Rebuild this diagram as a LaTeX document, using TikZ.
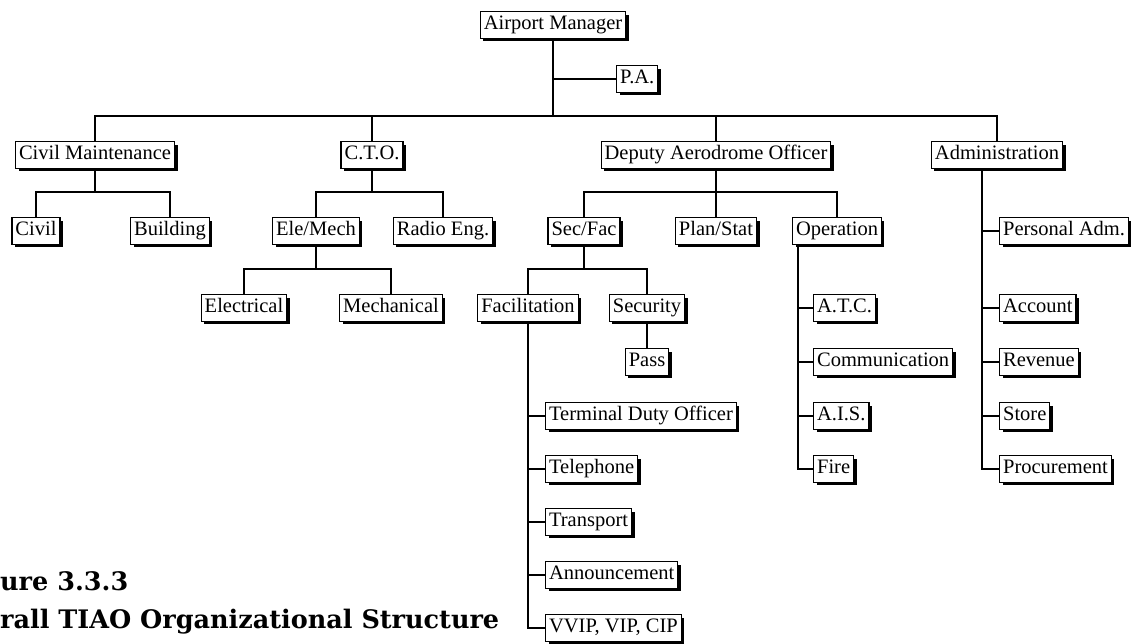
\documentclass[tikz,border=0pt]{standalone}
\usepackage{fontspec}
\setmainfont{Liberation Serif}
\newfontfamily\capfont{DejaVu Serif}
\usetikzlibrary{shadows}
\begin{document}
\begin{tikzpicture}[x=1pt,y=-1pt,
  box/.style={draw, line width=1.2pt, fill=white, inner xsep=3.5pt, inner ysep=3.5pt,
    text height=14.5pt, text depth=5pt, font=\fontsize{20.5}{22}\selectfont,
    drop shadow={shadow xshift=3pt, shadow yshift=-3pt, fill=black, opacity=1}},
  conn/.style={line width=2.1pt},
  capt/.style={anchor=base west, inner sep=0pt, font=\capfont\bfseries\fontsize{25.5}{28}\selectfont}]
\useasboundingbox (0,0) rectangle (1131,643);
% nodes
\node[box] (am) at (553,25) {Airport Manager};
\node[box,anchor=west] (pa) at (616,79) {P.A.};
\node[box] (cm) at (95,155) {Civil Maintenance};
\node[box] (cto) at (372,155) {C.T.O.};
\node[box] (dao) at (716,155) {Deputy Aerodrome Officer};
\node[box] (adm) at (997,155) {Administration};
\node[box] (civil) at (36,231) {Civil};
\node[box] (bld) at (170,231) {Building};
\node[box] (em) at (316,231) {Ele/Mech};
\node[box] (radio) at (443,231) {Radio Eng.};
\node[box] (secfac) at (584,231) {Sec/Fac};
\node[box] (plan) at (716,231) {Plan/Stat};
\node[box] (op) at (837,231) {Operation};
\node[box,anchor=west] (padm) at (999,231) {Personal Adm.};
\node[box] (elec) at (244,308) {Electrical};
\node[box] (mech) at (391,308) {Mechanical};
\node[box] (fac) at (528,308) {Facilitation};
\node[box] (sec) at (647,308) {Security};
\node[box] (pass) at (647,362) {Pass};
\node[box,anchor=west] (atc) at (813,308) {A.T.C.};
\node[box,anchor=west] (comm) at (813,362) {Communication};
\node[box,anchor=west] (ais) at (813,416) {A.I.S.};
\node[box,anchor=west] (fire) at (813,469) {Fire};
\node[box,anchor=west] (acc) at (999,308) {Account};
\node[box,anchor=west] (rev) at (999,362) {Revenue};
\node[box,anchor=west] (store) at (999,416) {Store};
\node[box,anchor=west] (proc) at (999,469) {Procurement};
\node[box,anchor=west] (tdo) at (545,416) {Terminal Duty Officer};
\node[box,anchor=west] (tel) at (545,469) {Telephone};
\node[box,anchor=west] (trans) at (545,522) {Transport};
\node[box,anchor=west] (ann) at (545,575) {Announcement};
\node[box,anchor=west] (vvip) at (545,628) {VVIP, VIP, CIP};
% bus coordinates
\coordinate (topbus) at (0,116);
\coordinate (lvtwo) at (0,192);
\coordinate (lvthree) at (0,269);
\coordinate (opx) at (798,0);
\coordinate (admx) at (982,0);
% connectors
\draw[conn] (am.south) -- (am.south |- topbus);
\draw[conn] (am.south |- pa.west) -- (pa.west);
\draw[conn] (cm.north) -- (cm.north |- topbus) -- (adm.north |- topbus) -- (adm.north);
\draw[conn] (cto.north) -- (cto.north |- topbus);
\draw[conn] (dao.north) -- (dao.north |- topbus);
% civil maintenance
\draw[conn] (cm.south) -- (cm.south |- lvtwo);
\draw[conn] (civil.north) -- (civil.north |- lvtwo) -- (bld.north |- lvtwo) -- (bld.north);
% CTO
\draw[conn] (cto.south) -- (cto.south |- lvtwo);
\draw[conn] (em.north) -- (em.north |- lvtwo) -- (radio.north |- lvtwo) -- (radio.north);
\draw[conn] (em.south) -- (em.south |- lvthree);
\draw[conn] (elec.north) -- (elec.north |- lvthree) -- (mech.north |- lvthree) -- (mech.north);
% Deputy
\draw[conn] (dao.south) -- (dao.south |- lvtwo);
\draw[conn] (secfac.north) -- (secfac.north |- lvtwo) -- (op.north |- lvtwo) -- (op.north);
\draw[conn] (plan.north) -- (plan.north |- lvtwo);
\draw[conn] (secfac.south) -- (secfac.south |- lvthree);
\draw[conn] (fac.north) -- (fac.north |- lvthree) -- (sec.north |- lvthree) -- (sec.north);
\draw[conn] (sec.south) -- (pass.north);
% facilitation
\draw[conn] (fac.south) |- (vvip.west);
\foreach \n in {tdo,tel,trans,ann} \draw[conn] (fac.south |- \n.west) -- (\n.west);
% operation
\draw[conn] (op.south -| opx) |- (fire.west);
\foreach \n in {atc,comm,ais} \draw[conn] (opx |- \n.west) -- (\n.west);
% administration
\draw[conn] (adm.south -| admx) |- (proc.west);
\foreach \n in {padm,acc,rev,store} \draw[conn] (admx |- \n.west) -- (\n.west);
% caption
\node[capt] (capa) at (0,590) {ure 3.3.3};
\node[capt] (capb) at (0,628) {rall TIAO Organizational Structure};
\end{tikzpicture}
\end{document}
